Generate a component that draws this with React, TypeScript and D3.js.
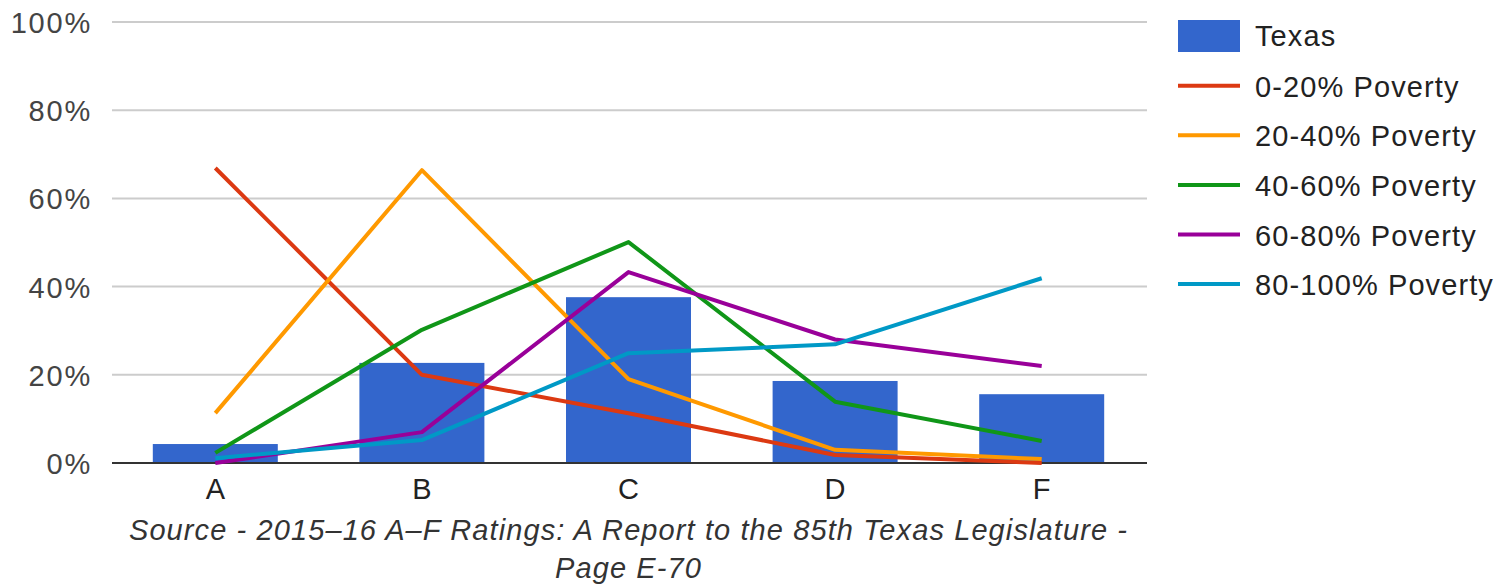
import React, { useRef, useEffect } from 'react';
import * as d3 from 'd3';

const categories = ['A', 'B', 'C', 'D', 'F'];
const texas = [4.3, 22.7, 37.6, 18.6, 15.6];
const poverty0to20 = [66.9, 20.0, 11.3, 1.8, 0.0];
const poverty20to40 = [11.3, 66.4, 19.0, 3.0, 0.9];
const poverty40to60 = [2.3, 30.2, 50.1, 13.9, 5.0];
const poverty60to80 = [0.0, 7.0, 43.3, 28.0, 22.0];
const poverty80to100 = [1.1, 5.2, 24.9, 26.9, 41.9];
const yTicks = [0, 20, 40, 60, 80, 100];
const lineNames = ['0-20% Poverty', '20-40% Poverty', '40-60% Poverty', '60-80% Poverty', '80-100% Poverty'];
const lineColors = ['#dc3912', '#ff9900', '#109618', '#990099', '#0099c6'];
const sourceLines = [
  'Source - 2015–16 A–F Ratings: A Report to the 85th Texas Legislature -',
  'Page E-70',
];

export default function App() {
  const svgRef = useRef<SVGSVGElement>(null);

  useEffect(() => {
    const svg = d3.select(svgRef.current);
    const width = 1501;
    const height = 586;
    const margin = { top: 22, right: 356, bottom: 123, left: 112 };
    const font = '"Liberation Sans", Arial, sans-serif';
    const fontSize = 29;
    const spacing = 1.1;

    svg.selectAll('*').remove();

    const x = d3.scaleBand()
      .domain(categories)
      .range([margin.left, width - margin.right])
      .paddingInner(0.395)
      .paddingOuter(0.1975);

    const y = d3.scaleLinear()
      .domain([0, 100])
      .range([height - margin.bottom, margin.top]);

    // gridlines
    svg.append('g')
      .selectAll('line')
      .data(yTicks.filter(t => t > 0))
      .join('line')
      .attr('x1', margin.left)
      .attr('x2', width - margin.right + 2)
      .attr('y1', d => y(d))
      .attr('y2', d => y(d))
      .attr('stroke', '#cccccc')
      .attr('stroke-width', 2);

    // y labels
    svg.append('g')
      .selectAll('text')
      .data(yTicks)
      .join('text')
      .attr('x', 92)
      .attr('y', d => y(d) + 11)
      .attr('text-anchor', 'end')
      .attr('font-family', font)
      .attr('font-size', fontSize)
      .attr('letter-spacing', 1.8)
      .attr('fill', '#444')
      .text(d => `${d}%`);

    // bars
    svg.append('g')
      .selectAll('rect')
      .data(texas)
      .join('rect')
      .attr('x', (d, i) => x(categories[i])!)
      .attr('y', d => y(d))
      .attr('width', x.bandwidth())
      .attr('height', d => y(0) - y(d))
      .attr('fill', '#3366cc');

    // baseline
    svg.append('line')
      .attr('x1', margin.left)
      .attr('x2', width - margin.right + 2)
      .attr('y1', y(0))
      .attr('y2', y(0))
      .attr('stroke', '#333')
      .attr('stroke-width', 2);

    // lines
    const series = [poverty0to20, poverty20to40, poverty40to60, poverty60to80, poverty80to100];
    const line = d3.line<number>()
      .x((d, i) => x(categories[i])! + x.bandwidth() / 2)
      .y(d => y(d));

    svg.append('g')
      .selectAll('path')
      .data(series)
      .join('path')
      .attr('d', d => line(d))
      .attr('fill', 'none')
      .attr('stroke', (d, i) => lineColors[i])
      .attr('stroke-width', 4)
      .attr('stroke-linejoin', 'round');

    // x labels
    svg.append('g')
      .selectAll('text')
      .data(categories)
      .join('text')
      .attr('x', d => x(d)! + x.bandwidth() / 2)
      .attr('y', 499)
      .attr('text-anchor', 'middle')
      .attr('font-family', font)
      .attr('font-size', fontSize)
      .attr('fill', '#222')
      .text(d => d);

    // source caption
    const cx = (margin.left + width - margin.right) / 2;
    svg.append('g')
      .selectAll('text')
      .data(sourceLines)
      .join('text')
      .attr('x', cx)
      .attr('y', (d, i) => 540 + i * 38)
      .attr('text-anchor', 'middle')
      .attr('font-family', font)
      .attr('font-size', fontSize)
      .attr('letter-spacing', spacing)
      .attr('font-style', 'italic')
      .attr('fill', '#333')
      .text(d => d);

    // legend
    const legend = svg.append('g').attr('transform', 'translate(1178, 0)');
    legend.append('rect')
      .attr('x', 0)
      .attr('y', 20)
      .attr('width', 62)
      .attr('height', 32)
      .attr('fill', '#3366cc');
    legend.append('text')
      .attr('x', 77)
      .attr('y', 46)
      .attr('font-family', font)
      .attr('font-size', fontSize)
      .attr('letter-spacing', spacing)
      .attr('fill', '#222')
      .text('Texas');

    const rows = legend.selectAll('g.row')
      .data(lineNames)
      .join('g')
      .attr('class', 'row')
      .attr('transform', (d, i) => `translate(0, ${85.7 + i * 49.6})`);
    rows.append('line')
      .attr('x1', 0)
      .attr('x2', 62)
      .attr('stroke', (d, i) => lineColors[i])
      .attr('stroke-width', 4);
    rows.append('text')
      .attr('x', 77)
      .attr('y', 11)
      .attr('font-family', font)
      .attr('font-size', fontSize)
      .attr('letter-spacing', spacing)
      .attr('fill', '#222')
      .text(d => d);
  }, []);

  return (
    <svg
      ref={svgRef}
      width={1501}
      height={586}
      style={{ position: 'absolute', left: 0, top: 0, background: '#fff' }}
    />
  );
}
